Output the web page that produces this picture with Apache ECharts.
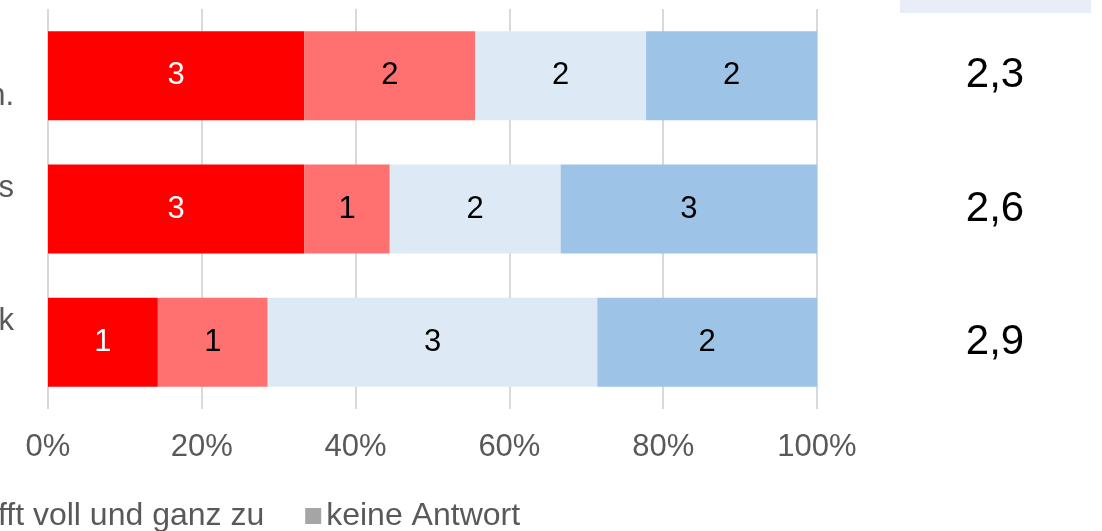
<!DOCTYPE html>
<html>
<head>
<meta charset="utf-8">
<script src="https://cdn.jsdelivr.net/npm/echarts@6/dist/echarts.min.js"></script>
<style>
html,body{margin:0;padding:0;background:#fff;}
#chart{width:1102px;height:531px;}
</style>
</head>
<body>
<div id="chart"></div>
<script>
// ---- data ----
const categories = [
  'Ich würde die Veranstaltung\nKolleginnen und Kollegen weiterempfehlen.',
  'Die Veranstaltung hat mein Verständnis des Themas\nvertieft',
  'Ich habe neue Methoden kennengelernt für Mathematik\nund Physik'
];
const seriesNames = ['trifft gar nicht zu', 'trifft eher nicht zu', 'trifft eher zu', 'trifft voll und ganz zu', 'keine Antwort'];
const garNicht = [3, 3, 1];
const eherNicht = [2, 1, 1];
const eher = [2, 2, 3];
const vollGanz = [2, 3, 2];
const keineAntwort = [0, 0, 0];
const means = ['2,3', '2,6', '2,9'];
const xTickLabels = ['0%', '20%', '40%', '60%', '80%', '100%'];

// ---- styles ----
const colors = ['#FF0000', '#FF7070', '#DEE9F6', '#9DC3E6', '#A5A5A5'];
const labelColors = ['#FFFFFF', '#000000', '#000000', '#000000', '#000000'];
const FONT = 'Arial, "Liberation Sans", sans-serif';

const counts = [garNicht, eherNicht, eher, vollGanz, keineAntwort];
const totals = categories.map((_, i) => counts.reduce((s, arr) => s + arr[i], 0));

const series = counts.map((arr, si) => ({
  name: seriesNames[si],
  type: 'bar',
  stack: 'total',
  barWidth: 89,
  itemStyle: { color: colors[si] },
  label: {
    show: true,
    position: 'inside',
    color: labelColors[si],
    fontSize: 31,
    fontFamily: FONT,
    formatter: p => (arr[p.dataIndex] ? String(arr[p.dataIndex]) : '')
  },
  emphasis: { disabled: true },
  data: arr.map((v, i) => (v / totals[i]) * 100)
}));

const chart = echarts.init(document.getElementById('chart'), null, { renderer: 'canvas' });
chart.setOption({
  animation: false,
  textStyle: { fontFamily: FONT },
  grid: { left: 48, right: 285, top: 9, bottom: 122, containLabel: false, outerBoundsMode: 'none' },
  xAxis: {
    type: 'value',
    min: 0, max: 100, interval: 20,
    axisLine: { show: false },
    axisTick: { show: false },
    splitLine: { show: true, lineStyle: { color: '#D9D9D9', width: 2 } },
    axisLabel: {
      color: '#595959', fontSize: 31, fontFamily: FONT, margin: 23,
      hideOverlap: false,
      formatter: v => xTickLabels[Math.round(v / 20)]
    }
  },
  yAxis: [
    {
      type: 'category',
      data: categories,
      inverse: true,
      axisLine: { show: false },
      axisTick: { show: false },
      axisLabel: {
        margin: 34,
        align: 'right',
        formatter: v => v.split('\n').map(l => '{c|' + l + '}').join('\n'),
        rich: {
          c: { align: 'center', fontSize: 31, color: '#595959', fontFamily: FONT, lineHeight: 42 }
        }
      }
    },
    {
      type: 'category',
      data: means,
      inverse: true,
      position: 'right',
      axisLine: { show: false },
      axisTick: { show: false },
      axisLabel: { margin: 178, align: 'center', fontSize: 42, color: '#000000', fontFamily: FONT }
    }
  ],
  legend: {
    data: seriesNames,
    orient: 'horizontal',
    left: -876,
    top: 500,
    width: 1800,
    padding: 0,
    itemGap: 41,
    itemWidth: 16,
    itemHeight: 16,
    icon: 'rect',
    selectedMode: false,
    textStyle: { color: '#595959', fontSize: 32, fontFamily: FONT }
  },
  graphic: [
    { type: 'rect', left: 900, top: 0, shape: { width: 191, height: 13 }, style: { fill: '#E9EDF7' }, silent: true }
  ],
  series: series
});
</script>
</body>
</html>
